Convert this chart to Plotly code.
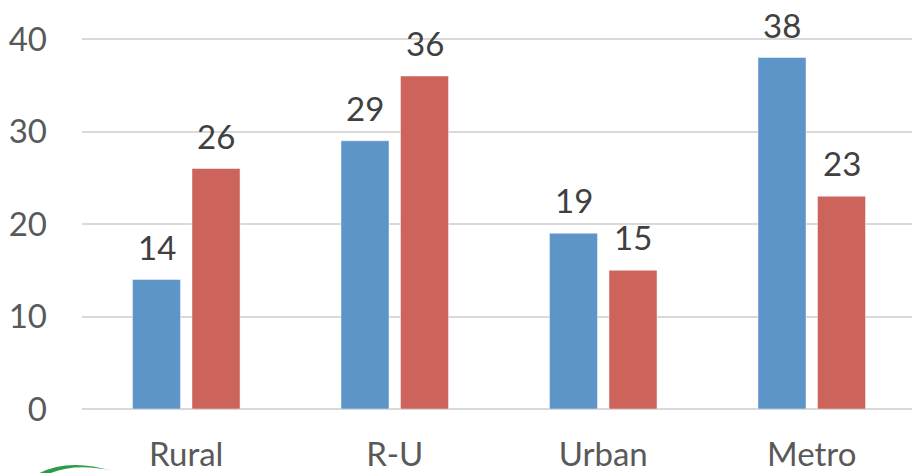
import plotly.graph_objects as go

categories = ["Rural", "R-U", "Urban", "Metro"]
series_a = [14, 29, 19, 38]
series_b = [26, 36, 15, 23]
y_ticks = [0, 10, 20, 30, 40]

BLUE = "#5E95C9"
RED = "#CC645B"
GRID = "#D9D9D9"
TEXT = "#595959"
LABEL = "#404040"
FONT = "Lato"

W, H = 912, 473
L, R, T, B = 82, 0, 0, 64
plot_w = W - L - R
plot_h = H - T - B
cat_px = 208.5
x_max = -0.5 + plot_w / cat_px
y_max = 40 + 39 / 9.25

fig = go.Figure()
for name, vals, color in [("A", series_a, BLUE), ("B", series_b, RED)]:
    fig.add_trace(go.Bar(
        x=categories, y=vals, name=name,
        marker=dict(color=color, line=dict(color="rgba(255,255,255,0.45)", width=1)),
        hoverinfo="skip",
    ))

# value labels above each bar
offset = 59.5 / 2
for vals, sgn in [(series_a, -1), (series_b, 1)]:
    for c, v in zip(categories, vals):
        fig.add_annotation(
            x=c, y=v, xref="x", yref="y", text=str(v), showarrow=False,
            xshift=sgn * offset, yshift=33, yanchor="middle",
            font=dict(family=FONT, size=33, color=LABEL),
        )

# partial green logo mark at the lower left corner
def to_paper(px, py):
    return (px - L) / plot_w, (H - B - py) / plot_h

def pt(px, py):
    x, y = to_paper(px, py)
    return f"{x:.5f},{y:.5f}"

logo = (f"M {pt(36, 475)} Q {pt(66, 457)} {pt(113, 471)} "
        f"Q {pt(74, 462)} {pt(46, 475)} Z")
fig.add_shape(type="path", path=logo, xref="paper", yref="paper",
              fillcolor="#2E9B45", line=dict(width=0), layer="above")

fig.update_layout(
    width=W, height=H,
    margin=dict(l=L, r=R, t=T, b=B, pad=0, autoexpand=False),
    paper_bgcolor="white", plot_bgcolor="white",
    barmode="group", bargap=0.429, bargroupgap=0.193,
    showlegend=False,
    font=dict(family=FONT, size=33, color=TEXT),
    xaxis=dict(
        range=[-0.5, x_max], showgrid=False, showline=False, zeroline=False,
        automargin=False,
        ticks="outside", ticklen=16, tickcolor="rgba(0,0,0,0)",
        tickfont=dict(family=FONT, size=33, color=TEXT),
    ),
    yaxis=dict(
        range=[0, y_max], tickvals=y_ticks, showgrid=True, gridcolor=GRID,
        gridwidth=2, zeroline=True, zerolinecolor=GRID, zerolinewidth=2,
        automargin=False,
        showline=False, ticks="", ticklabelstandoff=34,
        tickfont=dict(family=FONT, size=33, color=TEXT),
    ),
)

fig.write_html("out.html")
